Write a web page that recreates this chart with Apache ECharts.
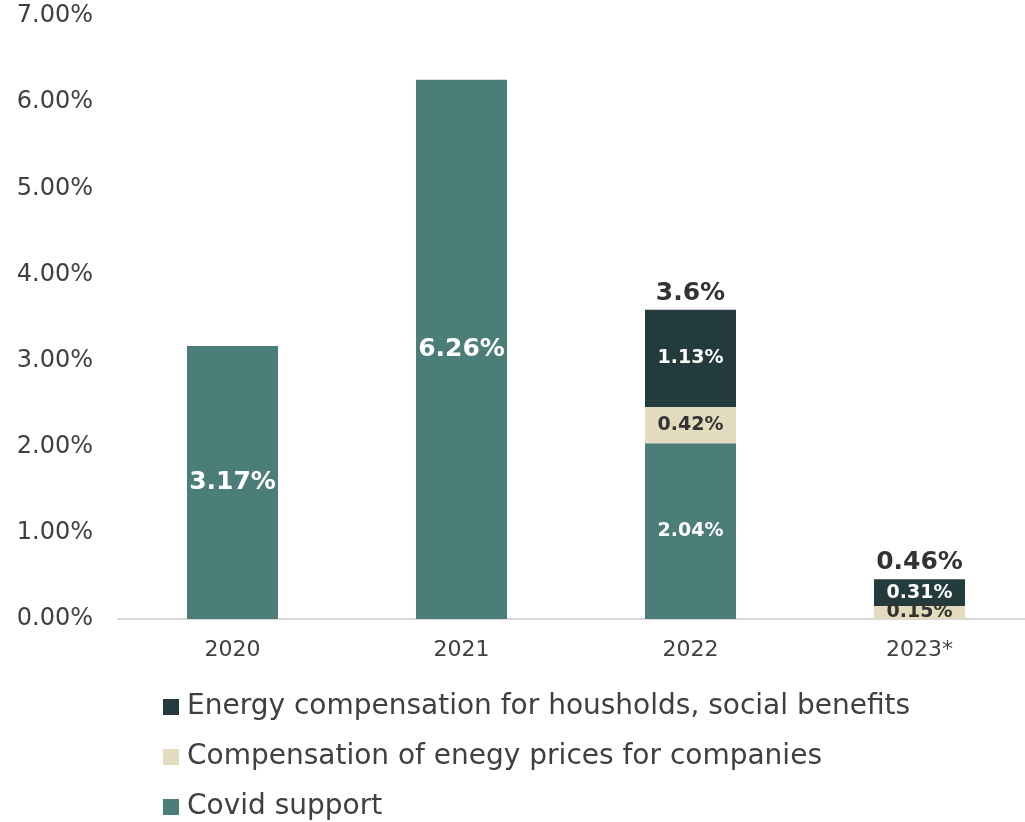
<!DOCTYPE html>
<html>
<head>
<meta charset="utf-8">
<script src="https://cdn.jsdelivr.net/npm/echarts@6/dist/echarts.min.js"></script>
<style>
  html, body { margin: 0; padding: 0; background: #fff; }
  #chart { width: 1025px; height: 822px; }
</style>
</head>
<body>
<div id="chart"></div>
<script>
// Fiscal support measures, share of GDP
const years = ['2020', '2021', '2022', '2023*'];
const covidSupport = [3.17, 6.26, 2.04, null];
const companyEnergy = [null, null, 0.42, 0.15];
const householdEnergy = [null, null, 1.13, 0.31];
const totals = [null, null, 3.6, 0.46];
const yTicks = [0, 1, 2, 3, 4, 5, 6, 7];

const names = {
  covid: 'Covid support',
  company: 'Compensation of enegy prices for companies',
  household: 'Energy compensation for housholds, social benefits'
};
const colors = { covid: '#4b7d79', company: '#e2dbbd', household: '#233b3c' };
const FONT = 'DejaVu Sans';

// Larger labels for the single-segment years
function covidItems() {
  return covidSupport.map((v, i) => ({
    value: v,
    label: { fontSize: i < 2 ? 25 : 19 }
  }));
}

// One legend block per row, stacked vertically
const legendOrder = [names.household, names.company, names.covid];
const legends = legendOrder.map((n, i) => ({
  orient: 'vertical',
  left: 158,
  top: 688 + i * 50,
  itemWidth: 16,
  itemHeight: 16,
  icon: 'rect',
  data: [n],
  textStyle: { fontSize: 28, color: '#404040', fontFamily: FONT, padding: [0, 0, 0, 3] }
}));

const valueLabel = p => p.value.toFixed(2) + '%';

const chart = echarts.init(document.getElementById('chart'), null, { renderer: 'canvas' });
chart.setOption({
  animation: false,
  textStyle: { fontFamily: FONT },
  grid: { left: 118, width: 916, top: 16, bottom: 203, containLabel: false, outerBoundsMode: 'none' },
  legend: legends,
  xAxis: {
    type: 'category',
    data: years,
    axisLine: { lineStyle: { color: '#d9d9d9', width: 2 } },
    axisTick: { show: false },
    axisLabel: { fontSize: 22, color: '#404040', margin: 20, fontFamily: FONT }
  },
  yAxis: {
    type: 'value',
    min: yTicks[0],
    max: yTicks[yTicks.length - 1],
    interval: 1,
    splitLine: { show: false },
    axisLine: { show: false },
    axisTick: { show: false },
    axisLabel: {
      fontSize: 24, color: '#404040', margin: 25, fontFamily: FONT,
      formatter: v => v.toFixed(2) + '%'
    }
  },
  series: [
    {
      name: names.covid, type: 'bar', stack: 'total', barWidth: 91,
      itemStyle: { color: colors.covid },
      label: { show: true, position: 'inside', color: '#fff', fontWeight: 'bold', fontFamily: FONT,
        formatter: valueLabel },
      data: covidItems()
    },
    {
      name: names.company, type: 'bar', stack: 'total', barWidth: 91,
      itemStyle: { color: colors.company },
      label: { show: true, position: 'inside', color: '#333', fontWeight: 'bold', fontSize: 19, fontFamily: FONT,
        formatter: valueLabel },
      data: companyEnergy
    },
    {
      name: names.household, type: 'bar', stack: 'total', barWidth: 91,
      itemStyle: { color: colors.household },
      label: { show: true, position: 'inside', color: '#fff', fontWeight: 'bold', fontSize: 19, fontFamily: FONT,
        formatter: valueLabel },
      data: householdEnergy
    },
    {
      name: 'total', type: 'bar', stack: 'total', barWidth: 91,
      itemStyle: { color: 'transparent' },
      label: { show: true, position: 'top', distance: 4, color: '#333', fontWeight: 'bold', fontSize: 25, fontFamily: FONT,
        formatter: p => totals[p.dataIndex] == null ? '' : totals[p.dataIndex] + '%' },
      data: totals.map(t => (t == null ? null : 0))
    }
  ]
});
</script>
</body>
</html>
